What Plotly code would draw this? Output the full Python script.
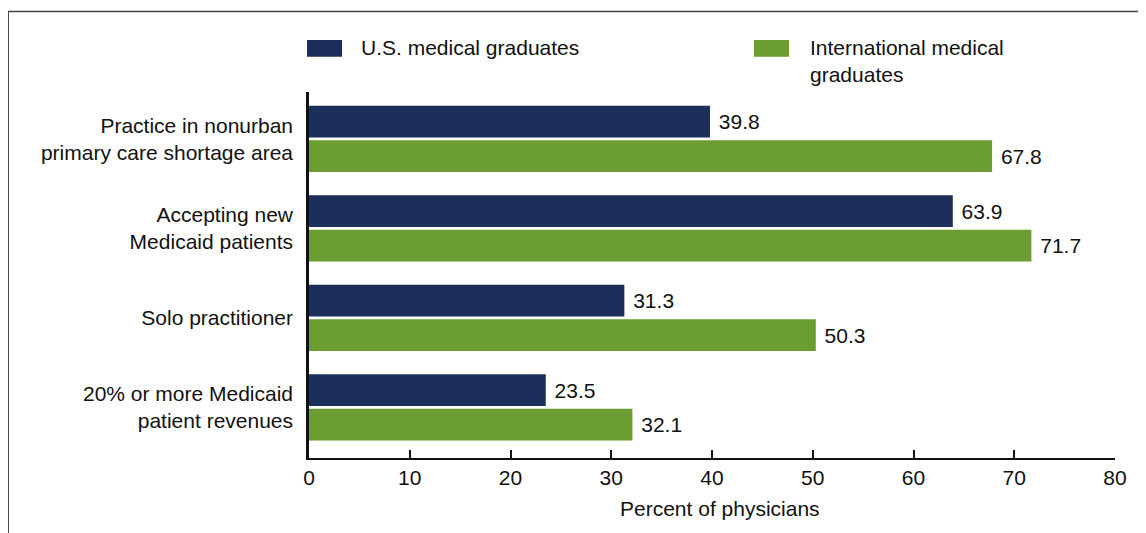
import plotly.graph_objects as go

categories = [
    "Practice in nonurban<br>primary care shortage area",
    "Accepting new<br>Medicaid patients",
    "Solo practitioner",
    "20% or more Medicaid<br>patient revenues",
]
us_values = [39.8, 63.9, 31.3, 23.5]
img_values = [67.8, 71.7, 50.3, 32.1]
series_names = ["U.S. medical graduates", "International medical<br>graduates"]
x_ticks = [0, 10, 20, 30, 40, 50, 60, 70, 80]
x_title = "Percent of physicians"

NAVY = "#1C2F5A"
GREEN = "#6B9D32"
FONT = "Liberation Sans, Arial, sans-serif"
FS = 21

W, H = 1146, 533
OFF = 8  # page body margin
L, R, T = 301, 39, 84
B = H - 450
PW, PH = W - L - R, H - T - B

def px(x):  # page pixel -> paper
    return (x - OFF - L) / PW

def py(y):
    return (H - B - (y - OFF)) / PH

fig = go.Figure()
for vals, name, col in [(us_values, series_names[0], NAVY), (img_values, series_names[1], GREEN)]:
    fig.add_trace(go.Bar(
        y=categories, x=vals, name=name, orientation="h",
        marker=dict(color=col, line=dict(width=0)),
        text=vals, texttemplate="\u00a0%{x:.1f}", textposition="outside",
        textfont=dict(family=FONT, size=FS, color="#111"),
        cliponaxis=False, showlegend=False, hoverinfo="skip",
    ))

shapes = [
    dict(type="line", xref="paper", yref="paper", x0=px(7.5), x1=px(1160), y0=py(11.5), y1=py(11.5),
         line=dict(color="#444", width=1.5)),
    dict(type="line", xref="paper", yref="paper", x0=px(8.2), x1=px(8.2), y0=py(11.5), y1=py(545),
         line=dict(color="#444", width=1.5)),
]
annotations = []
for (x0, x1, tx, name, col) in [(307, 342, 359, series_names[0], NAVY), (754, 789, 808, series_names[1], GREEN)]:
    shapes.append(dict(type="rect", xref="paper", yref="paper", x0=px(x0), x1=px(x1), y0=py(56.7), y1=py(40),
                       fillcolor=col, line=dict(width=0)))
    annotations.append(dict(xref="paper", yref="paper", x=px(tx), y=py(34), xanchor="left", yanchor="top",
                            text=name, showarrow=False, align="left",
                            font=dict(family=FONT, size=FS, color="#111")))
annotations.append(dict(xref="paper", yref="paper", x=px(720), y=py(508), xanchor="center", yanchor="middle",
                        text=x_title, showarrow=False, font=dict(family=FONT, size=FS, color="#111")))

fig.update_layout(
    width=W, height=H,
    margin=dict(l=L, r=R, t=T, b=B, pad=0),
    paper_bgcolor="white", plot_bgcolor="white",
    barmode="group", bargap=0.229, bargroupgap=0.08,
    font=dict(family=FONT, size=FS, color="#111"),
    shapes=shapes, annotations=annotations,
    xaxis=dict(range=[0, 80], tickvals=x_ticks, ticks="inside", ticklen=8, tickwidth=2,
               tickcolor="#111", showline=True, linecolor="#111", linewidth=2,
               showgrid=False, zeroline=False, tickfont=dict(size=FS)),
    yaxis=dict(type="category", categoryorder="array", categoryarray=categories,
               range=[3.566, -0.523], showline=True, linecolor="#111", linewidth=2.5,
               showgrid=False, ticks="", ticklabelstandoff=9, tickfont=dict(size=FS)),
)

fig.write_html("out.html")
